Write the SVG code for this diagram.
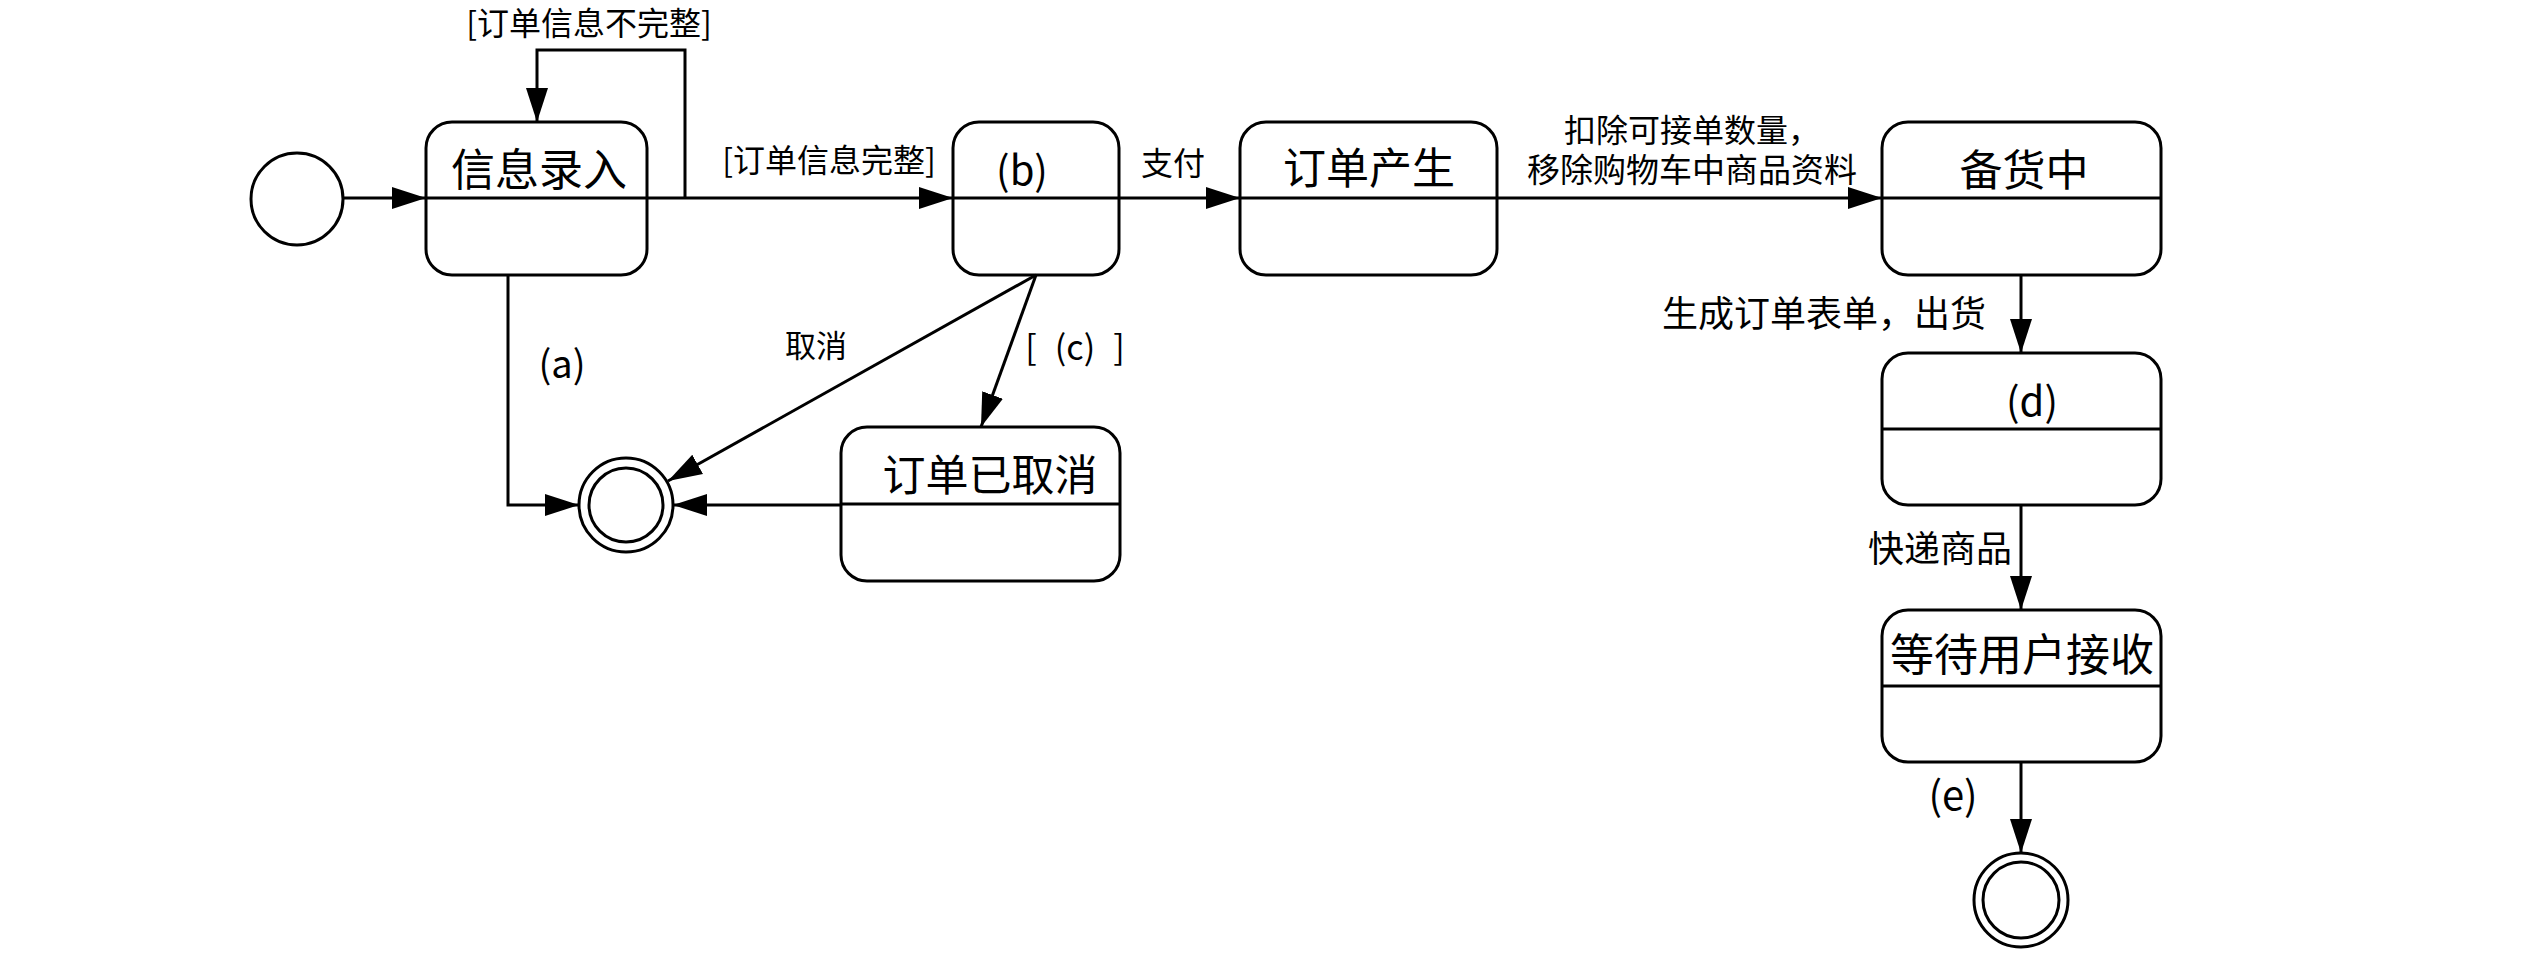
<svg xmlns="http://www.w3.org/2000/svg" width="2532" height="954" viewBox="0 0 2532 954">
<style>
.st{fill:#fff;stroke:#000;stroke-width:3}
.dv{stroke:#000;stroke-width:3}
.cn{fill:none;stroke:#000;stroke-width:3}
text{font-family:"Noto Sans CJK SC","Noto Sans",sans-serif;fill:#000;text-anchor:middle}
.n{font-size:43px}
.l{font-size:32px}
.p{font-size:40px}
</style>
<defs>
<marker id="ah" markerUnits="userSpaceOnUse" markerWidth="34" markerHeight="24" refX="34" refY="12" orient="auto">
<path d="M0,1 L34,12 L0,23 z" fill="#000"/>
</marker>
</defs>
<rect width="2532" height="954" fill="#fff"/>
<g id="start"><circle cx="297" cy="199" r="46" class="st"/></g>
<g id="s_input"><rect x="426" y="122" width="221" height="153" rx="26" class="st"/><line x1="426" y1="198" x2="647" y2="198" class="dv"/><text x="539" y="186" style="font-size:44px">信息录入</text></g>
<g id="s_b"><rect x="953" y="122" width="166" height="153" rx="26" class="st"/><line x1="953" y1="198" x2="1119" y2="198" class="dv"/><text x="1022" y="185" class="p">(b)</text></g>
<g id="s_created"><rect x="1240" y="122" width="257" height="153" rx="26" class="st"/><line x1="1240" y1="198" x2="1497" y2="198" class="dv"/><text x="1369" y="184" class="n">订单产生</text></g>
<g id="s_stock"><rect x="1882" y="122" width="279" height="153" rx="26" class="st"/><line x1="1882" y1="198" x2="2161" y2="198" class="dv"/><text x="2024" y="186" class="n">备货中</text></g>
<g id="s_d"><rect x="1882" y="353" width="279" height="152" rx="26" class="st"/><line x1="1882" y1="429" x2="2161" y2="429" class="dv"/><text x="2032" y="416" class="p">(d)</text></g>
<g id="s_wait"><rect x="1882" y="610" width="279" height="152" rx="26" class="st"/><line x1="1882" y1="686" x2="2161" y2="686" class="dv"/><text x="2022" y="671" style="font-size:44px">等待用户接收</text></g>
<g id="s_cancel"><rect x="841" y="427" width="279" height="154" rx="26" class="st"/><line x1="841" y1="504" x2="1120" y2="504" class="dv"/><text x="990" y="491" class="n">订单已取消</text></g>
<g id="end1"><circle cx="626" cy="505" r="47" class="st"/><circle cx="626" cy="505" r="37" class="st"/></g>
<g id="end2"><circle cx="2021" cy="900" r="47" class="st"/><circle cx="2021" cy="900" r="38" class="st"/></g>
<g id="connectors">
<path d="M343,198 H426" class="cn" marker-end="url(#ah)"/>
<path d="M647,198 H953" class="cn" marker-end="url(#ah)"/>
<path d="M685,198 V50 H537 V122" class="cn" marker-end="url(#ah)"/>
<path d="M1119,198 H1240" class="cn" marker-end="url(#ah)"/>
<path d="M1497,198 H1882" class="cn" marker-end="url(#ah)"/>
<path d="M2021,275 V353" class="cn" marker-end="url(#ah)"/>
<path d="M2021,505 V610" class="cn" marker-end="url(#ah)"/>
<path d="M2021,762 V853" class="cn" marker-end="url(#ah)"/>
<path d="M508,275 V505 H579" class="cn" marker-end="url(#ah)"/>
<path d="M1036,275 L668,481" class="cn" marker-end="url(#ah)"/>
<path d="M1036,275 L981,427" class="cn" marker-end="url(#ah)"/>
<path d="M841,505 H673" class="cn" marker-end="url(#ah)"/>
</g>
<g id="labels">
<text x="589" y="35" class="l">[订单信息不完整]</text>
<text x="829" y="172" class="l">[订单信息完整]</text>
<text x="1173" y="175" class="l">支付</text>
<text x="1692" y="142" style="font-size:32px">扣除可接单数量，<tspan x="1692" y="182" style="font-size:33px">移除购物车中商品资料</tspan></text>
<text x="1824" y="327" style="font-size:36px">生成订单表单，出货</text>
<text x="1940" y="562" style="font-size:36px">快递商品</text>
<text x="1953" y="810" class="p">(e)</text>
<text x="562" y="378" style="font-size:38px">(a)</text>
<text x="816" y="357" style="font-size:31px">取消</text>
<text x="1075" y="360" style="font-size:34px">[<tspan dx="18">(c)</tspan><tspan dx="18">]</tspan></text>
</g>
</svg>
